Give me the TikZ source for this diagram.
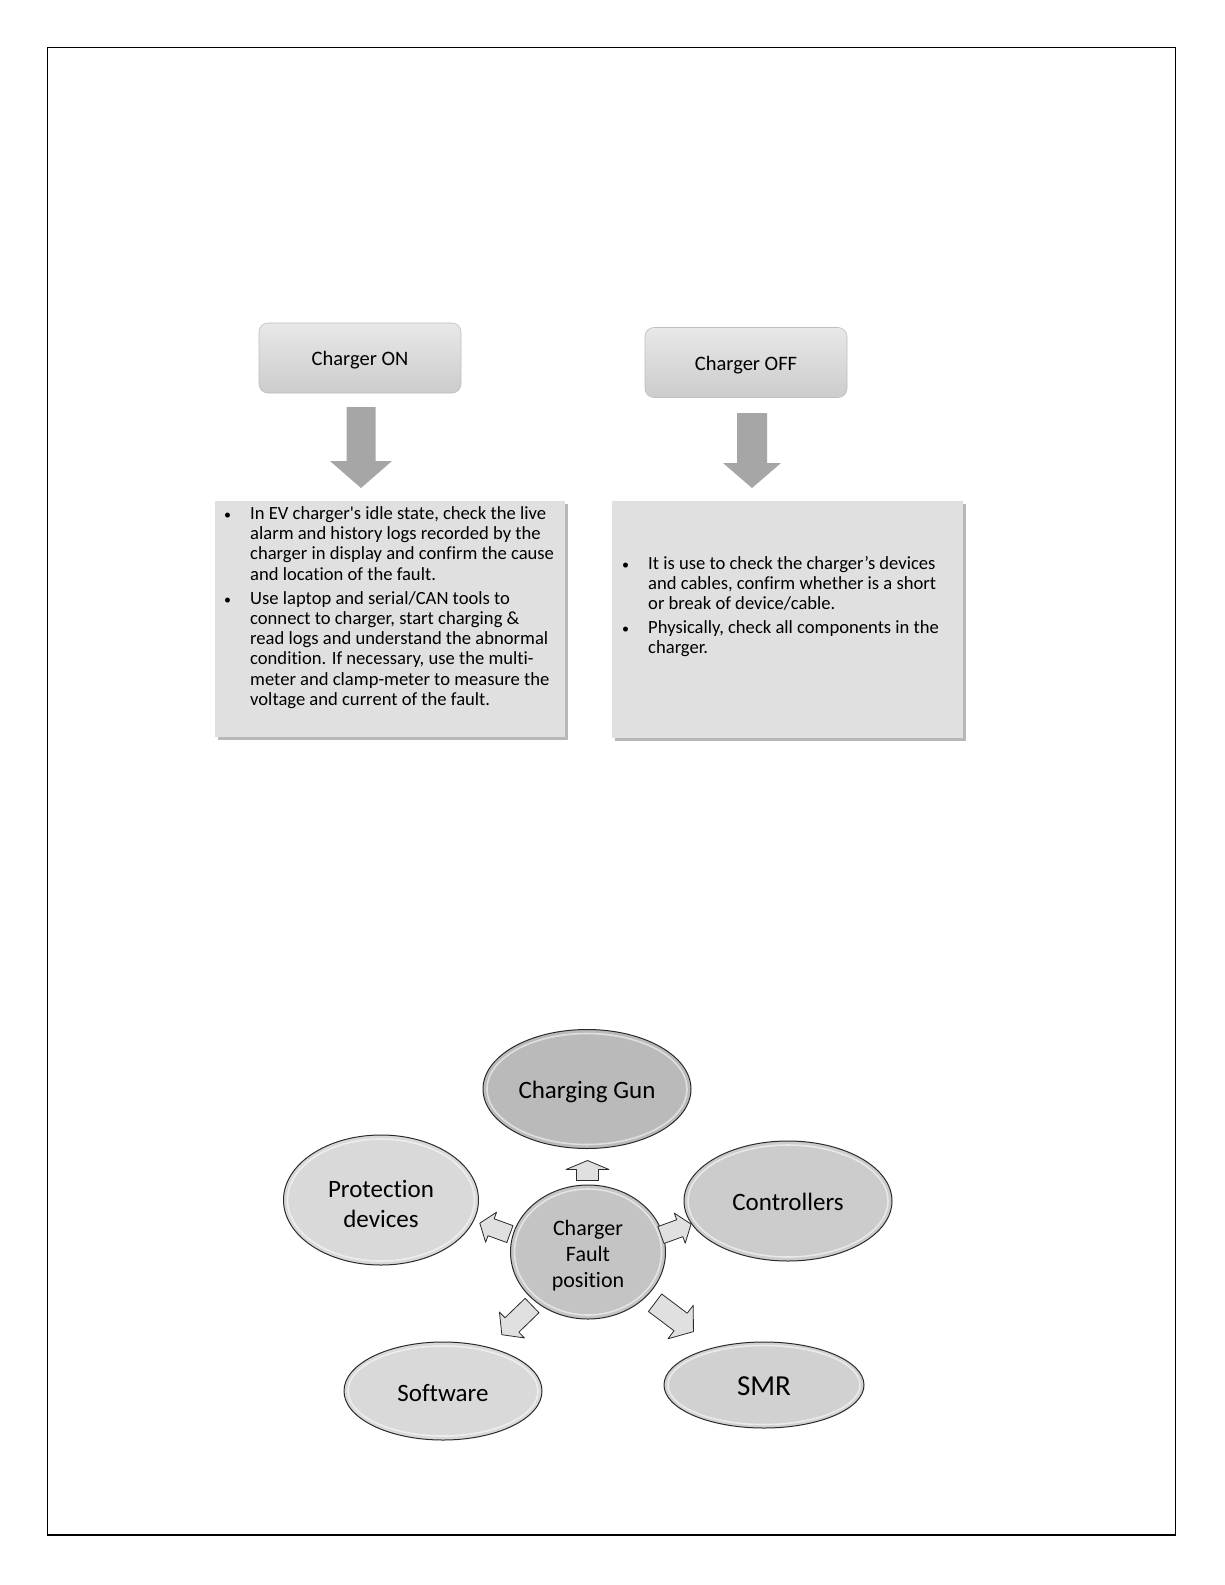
\documentclass[tikz,border=0pt]{standalone}
\usepackage{fontspec}
\setmainfont{Carlito}[Ligatures={TeX,NoCommon}]
\usetikzlibrary{shapes.geometric,calc}
\definecolor{txtbox}{HTML}{E0E0E0}
\definecolor{bigarrow}{HTML}{A6A6A6}
\definecolor{outl}{HTML}{2A2A2A}
\newcommand\smallblock[6]{%
  \draw[smallarr, shift={#1}, rotate=#2]
    ({-#3},{-#5}) -- ({#3-#4},{-#5}) -- ({#3-#4},{-#6}) -- ({#3},0)
    -- ({#3-#4},{#6}) -- ({#3-#4},{#5}) -- ({-#3},{#5}) -- cycle;}
\newcommand\bigdown[6]{% x, shaft half, head half, top, head base, tip
  \fill[bigarrow] ({#1-#2},#4) -- ({#1+#2},#4) -- ({#1+#2},#5) -- ({#1+#3},#5)
    -- (#1,#6) -- ({#1-#3},#5) -- ({#1-#2},#5) -- cycle;}
\begin{document}
\begin{tikzpicture}[x=1pt,y=-1pt,
  topbox/.style={rectangle, rounded corners=9pt, draw=black!25, line width=0.6pt,
    top color=black!9, bottom color=black!20, minimum width=202pt,
    minimum height=70pt},
  toptext/.style={inner sep=0pt, font=\fontsize{20.5}{24}\selectfont, text=black},
  bodyline/.style={anchor=base west, inner sep=0pt, font=\fontsize{18.6}{20.2}\selectfont, text=black},
  bul/.style={anchor=base west, inner sep=0pt, font=\fontsize{14}{20}\selectfont, text=black},
  oval/.style={ellipse, draw=outl, line width=1pt, inner sep=0pt},
  ovaltext/.style={inner sep=0pt, align=center, font=\fontsize{25}{29.5}\selectfont, text=black},
  smallarr/.style={fill=black!12, draw=outl, line width=0.8pt, line join=round},
  hilite/.style={draw=white, line width=1.6pt, opacity=0.55}
]
\useasboundingbox (0,0) rectangle (1225,1585);
\fill[white] (0,0) rectangle (1225,1585);
\draw[line width=1.2pt] (47.5,47.5) rectangle (1175.5,1535);

% top boxes
\node[topbox] (on) at (360,358) {};
\node[toptext] (onT) at (360,360.5) {Charger ON};
\node[topbox] (off) at (746,362.5) {};
\node[toptext] (offT) at (746,365) {Charger OFF};

% big arrows
\bigdown{361}{14.5}{31}{407}{461}{488}
\bigdown{752}{15}{29}{413}{463}{488}

% text boxes with shadow
\fill[black!28] (217.5,503.5) rectangle (567.5,739.5);
\node[rectangle, fill=txtbox, minimum width=350pt, minimum height=236pt, inner sep=0pt] (lbox) at (390,619) {};
\fill[black!28] (614.5,503.5) rectangle (965.5,740.5);
\node[rectangle, fill=txtbox, minimum width=351pt, minimum height=237pt, inner sep=0pt] (rbox) at (787.5,619.5) {};

\foreach \yy/\mytext [count=\i] in {
  519.5/{In EV charger\textquotesingle s idle state, check the live},
  539.7/{alarm and history logs recorded by the},
  559.9/{charger in display and confirm the cause},
  580.1/{and location of the fault.},
  604.3/{Use laptop and serial/CAN tools to},
  624.5/{connect to charger, start charging \&},
  644.7/{read logs and understand the abnormal},
  664.9/{condition. If necessary, use the multi-},
  685.1/{meter and clamp-meter to measure the},
  705.3/{voltage and current of the fault.}}
  \node[bodyline] (L\i) at (250,\yy) {\mytext};
\node[bul] (lb1) at (224,519.5) {•};
\node[bul] (lb2) at (224,604.3) {•};

\foreach \yy/\mytext [count=\i] in {
  569/{It is use to check the charger’s devices},
  589.2/{and cables, confirm whether is a short},
  609.4/{or break of device/cable.},
  633.7/{Physically, check all components in the},
  653.9/{charger.}}
  \node[bodyline] (R\i) at (648,\yy) {\mytext};
\node[bul] (rb1) at (622,569) {•};
\node[bul] (rb2) at (622,633.7) {•};

% ovals
\node[oval, fill=black!27, minimum width=208pt, minimum height=119pt] (gun) at (587,1089) {};
\node[oval, fill=black!15, minimum width=195pt, minimum height=130pt] (prot) at (381,1200) {};
\node[oval, fill=black!20, minimum width=208pt, minimum height=120pt] (ctrl) at (788,1201) {};
\node[oval, fill=black!23, minimum width=155pt, minimum height=134pt] (cent) at (588,1252) {};
\node[oval, fill=black!15, minimum width=198pt, minimum height=98pt] (soft) at (443,1391) {};
\node[oval, fill=black!18, minimum width=200pt, minimum height=86pt] (smr) at (764,1385) {};

\foreach \n/\rx/\ry in {gun/100/55.5, prot/93.5/61, ctrl/100/56, cent/73.5/63, soft/95/45, smr/96/39.5}
  \draw[hilite] (\n.center) ellipse [x radius=\rx pt, y radius=\ry pt];

\node[ovaltext] (gunT) at ($(gun.center)+(0,3)$) {Charging Gun};
\node[ovaltext] (protT) at ($(prot.center)+(0,4)$) {Protection\\devices};
\node[ovaltext] (ctrlT) at ($(ctrl.center)+(0,1)$) {Controllers};
\node[ovaltext, font=\fontsize{22}{26}\selectfont] (centT) at ($(cent.center)+(0,4)$) {Charger\\Fault\\position};
\node[ovaltext] (softT) at ($(soft.center)+(0,2)$) {Software};
\node[ovaltext, font=\fontsize{29}{32}\selectfont] (smrT) at ($(smr.center)+(0,1)$) {SMR};

% small arrows
\smallblock{($(cent)!0.5!(gun)$)}{90}{10}{9}{11}{21.5}
\smallblock{($(cent)!0.45!(prot)$)}{160}{16}{12}{9}{16}
\smallblock{($(cent)!0.44!(ctrl)$)}{20}{16}{12}{9}{16}
\smallblock{($(cent)!0.49!(soft)$)}{224}{21}{14}{10}{18}
\smallblock{($(cent)!0.49!(smr)$)}{-37}{24}{16}{11}{21}
\end{tikzpicture}
\end{document}
